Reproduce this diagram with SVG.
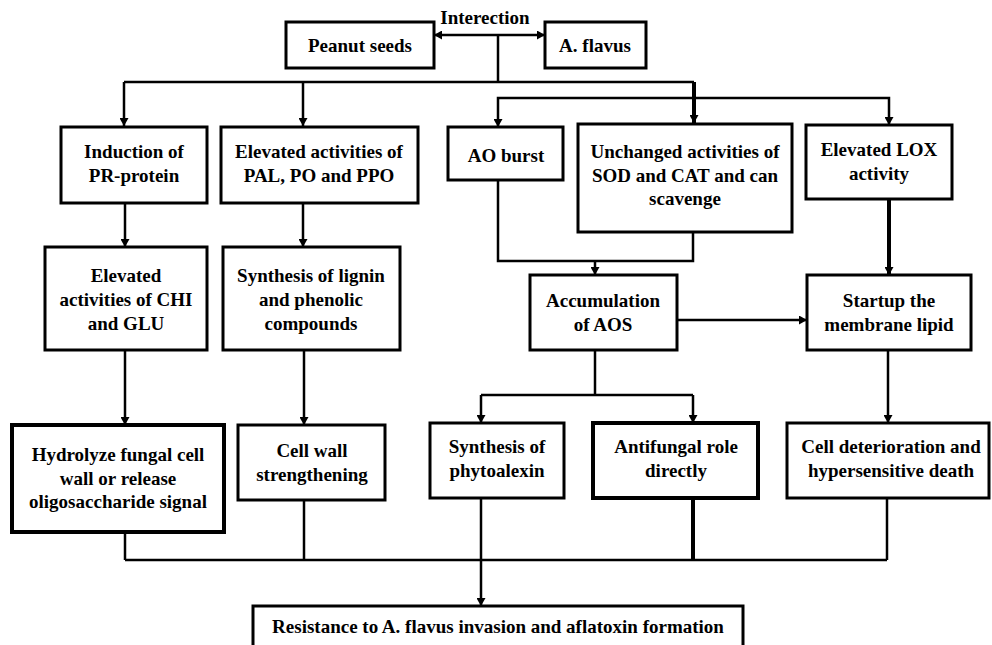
<svg xmlns="http://www.w3.org/2000/svg" width="992" height="645" viewBox="0 0 992 645">
  <style>
    .box { fill: #fff; stroke: #000; stroke-width: 3; }
    .box-heavy { fill: #fff; stroke: #000; stroke-width: 4; }
    .lbl { font-family: "Liberation Serif", "Times New Roman", serif; font-size: 19px; font-weight: bold; fill: #000; text-anchor: middle; }
    .wire { fill: none; stroke: #000; stroke-width: 2.5; }
    .wire-heavy { fill: none; stroke: #000; stroke-width: 4; }
    .arrow { marker-end: url(#head); }
  </style>
  <defs>
    <marker id="head" markerUnits="userSpaceOnUse" markerWidth="9" markerHeight="9" refX="8" refY="4.5" orient="auto-start-reverse">
      <path d="M0,0 L8,4.5 L0,9 z" fill="#000"/>
    </marker>
  </defs>

  <rect width="992" height="645" fill="#fff"/>

  <!-- connectors -->
  <g id="connectors">
    <path class="wire" d="M434,35 H545" marker-start="url(#head)" marker-end="url(#head)"/>
    <path class="wire" d="M498,35 V82"/>
    <path class="wire" d="M124,82 H694"/>
    <path class="wire arrow" d="M124,82 V126"/>
    <path class="wire arrow" d="M303,82 V126"/>
    <path class="wire-heavy arrow" d="M694,82 V123"/>
    <path class="wire arrow" d="M694,98 H498 V127"/>
    <path class="wire arrow" d="M694,98 H889 V125"/>

    <path class="wire arrow" d="M125,203 V247"/>
    <path class="wire arrow" d="M303,203 V247"/>
    <path class="wire arrow" d="M125,350 V425"/>
    <path class="wire arrow" d="M304,350 V425"/>

    <path class="wire" d="M498,180 V261 H693 V232"/>
    <path class="wire arrow" d="M595,261 V275"/>
    <path class="wire-heavy arrow" d="M889,199 V275"/>
    <path class="wire arrow" d="M677,320 H807"/>

    <path class="wire" d="M595,350 V395"/>
    <path class="wire" d="M481,395 H693"/>
    <path class="wire arrow" d="M481,395 V423"/>
    <path class="wire arrow" d="M693,395 V423"/>
    <path class="wire arrow" d="M888,350 V423"/>

    <path class="wire" d="M125,532 V560"/>
    <path class="wire" d="M304,500 V560"/>
    <path class="wire-heavy" d="M693,498 V560"/>
    <path class="wire" d="M887,498 V560"/>
    <path class="wire" d="M125,560 H887"/>
    <path class="wire arrow" d="M481,498 V606"/>
  </g>

  <text class="lbl" x="485" y="24">Interection</text>

  <g id="peanut-seeds">
    <rect class="box" x="286" y="22" width="148" height="46"/>
    <text class="lbl" x="360" y="52">Peanut seeds</text>
  </g>
  <g id="a-flavus">
    <rect class="box" x="545" y="22" width="101" height="46"/>
    <text class="lbl" x="595" y="52">A. flavus</text>
  </g>

  <g id="pr-protein">
    <rect class="box" x="61" y="127" width="146" height="76"/>
    <text class="lbl" x="134" y="158">Induction of</text>
    <text class="lbl" x="134" y="182">PR-protein</text>
  </g>
  <g id="pal-po-ppo">
    <rect class="box" x="221" y="127" width="197" height="76"/>
    <text class="lbl" x="319" y="158">Elevated activities of</text>
    <text class="lbl" x="319" y="182">PAL, PO and PPO</text>
  </g>
  <g id="ao-burst">
    <rect class="box" x="448" y="127" width="115" height="53"/>
    <text class="lbl" x="506" y="162">AO burst</text>
  </g>
  <g id="sod-cat">
    <rect class="box" x="578" y="124" width="214" height="108"/>
    <text class="lbl" x="685" y="158">Unchanged activities of</text>
    <text class="lbl" x="685" y="182">SOD and CAT and can</text>
    <text class="lbl" x="685" y="205">scavenge</text>
  </g>
  <g id="lox">
    <rect class="box" x="806" y="125" width="146" height="74"/>
    <text class="lbl" x="879" y="156">Elevated LOX</text>
    <text class="lbl" x="879" y="180">activity</text>
  </g>

  <g id="chi-glu">
    <rect class="box" x="45" y="247" width="162" height="103"/>
    <text class="lbl" x="126" y="282">Elevated</text>
    <text class="lbl" x="126" y="306">activities of CHI</text>
    <text class="lbl" x="126" y="330">and GLU</text>
  </g>
  <g id="lignin">
    <rect class="box" x="223" y="247" width="177" height="103"/>
    <text class="lbl" x="311" y="282">Synthesis of lignin</text>
    <text class="lbl" x="311" y="306">and phenolic</text>
    <text class="lbl" x="311" y="330">compounds</text>
  </g>
  <g id="aos">
    <rect class="box" x="530" y="275" width="147" height="75"/>
    <text class="lbl" x="603" y="307">Accumulation</text>
    <text class="lbl" x="603" y="331">of AOS</text>
  </g>
  <g id="membrane-lipid">
    <rect class="box" x="807" y="275" width="164" height="75"/>
    <text class="lbl" x="889" y="307">Startup the</text>
    <text class="lbl" x="889" y="331">membrane lipid</text>
  </g>

  <g id="hydrolyze">
    <rect class="box-heavy" x="12" y="425" width="212" height="107"/>
    <text class="lbl" x="118" y="461">Hydrolyze fungal cell</text>
    <text class="lbl" x="118" y="485">wall or release</text>
    <text class="lbl" x="118" y="508">oligosaccharide signal</text>
  </g>
  <g id="cell-wall">
    <rect class="box" x="238" y="425" width="147" height="75"/>
    <text class="lbl" x="312" y="457">Cell wall</text>
    <text class="lbl" x="312" y="481">strengthening</text>
  </g>
  <g id="phytoalexin">
    <rect class="box" x="430" y="423" width="134" height="75"/>
    <text class="lbl" x="497" y="453">Synthesis of</text>
    <text class="lbl" x="497" y="477">phytoalexin</text>
  </g>
  <g id="antifungal">
    <rect class="box-heavy" x="593" y="423" width="165" height="75"/>
    <text class="lbl" x="676" y="453">Antifungal role</text>
    <text class="lbl" x="676" y="477">directly</text>
  </g>
  <g id="cell-death">
    <rect class="box" x="787" y="423" width="202" height="75"/>
    <text class="lbl" x="891" y="453">Cell deterioration and</text>
    <text class="lbl" x="891" y="477">hypersensitive death</text>
  </g>

  <g id="resistance">
    <rect class="box" x="253" y="606" width="490" height="50"/>
    <text class="lbl" x="498" y="633">Resistance to A. flavus invasion and aflatoxin formation</text>
  </g>
</svg>
